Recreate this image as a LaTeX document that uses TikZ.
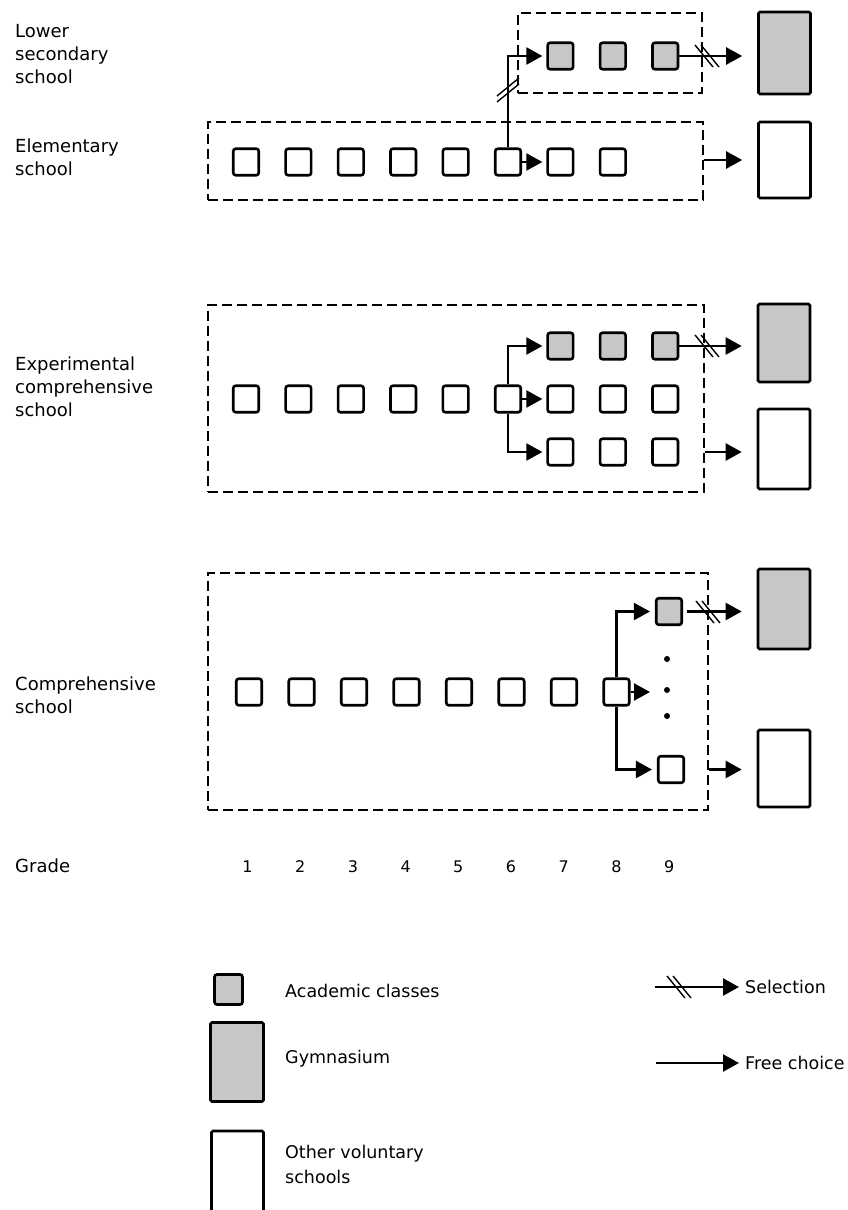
\documentclass[tikz,border=0pt]{standalone}
\usepackage{fontspec}
\setmainfont{DejaVu Sans}
\usetikzlibrary{arrows.meta,calc}
\definecolor{stip}{gray}{0.78}
\newcommand\selH[1]{%
  \draw[hl] ([shift={(-12,-11)}]#1) -- ([shift={(6,11)}]#1);
  \draw[hl] ([shift={(-6,-11)}]#1) -- ([shift={(12,11)}]#1);}
\newcommand\selV[1]{%
  \draw[hl] ([shift={(-11,6)}]#1) -- ([shift={(11,-12)}]#1);
  \draw[hl] ([shift={(-11,12)}]#1) -- ([shift={(11,-6)}]#1);}
\begin{document}
\begin{tikzpicture}[x=1pt,y=-1pt,
  sq/.style={draw, line width=2.6pt, rounded corners=2.5pt, minimum width=25.5pt, minimum height=26.5pt, inner sep=0pt, fill=white},
  gsq/.style={sq, fill=stip},
  big/.style={draw, line width=2.6pt, rounded corners=1.5pt, minimum width=52pt, inner sep=0pt, fill=white},
  gbig/.style={big, fill=stip},
  dbox/.style={draw, dash pattern=on 10pt off 5pt, line width=1.4pt, inner sep=0pt},
  arr/.style={line width=2.3pt, -{Triangle[length=16pt,width=17pt]}},
  hl/.style={line width=1.4pt},
  lab/.style={anchor=base west, inner sep=0pt, font=\fontsize{18}{20}\selectfont},
  leg/.style={anchor=base west, inner sep=0pt, font=\fontsize{17.5}{20}\selectfont},
  num/.style={anchor=base, inner sep=0pt, font=\fontsize{16}{18}\selectfont},
  dot/.style={circle, fill, inner sep=0pt, minimum size=6pt}]
\useasboundingbox (0,0) rectangle (847,1210);

% ---------- labels ----------
\node[lab] (t1a) at (15,37) {Lower};
\node[lab] (t1b) at (15,60) {secondary};
\node[lab] (t1c) at (15,83) {school};
\node[lab] (t2a) at (15,152) {Elementary};
\node[lab] (t2b) at (15,175) {school};
\node[lab] (t3a) at (15,370) {Experimental};
\node[lab] (t3b) at (15,393) {comprehensive};
\node[lab] (t3c) at (15,416) {school};
\node[lab] (t4a) at (15,690) {Comprehensive};
\node[lab] (t4b) at (15,713) {school};
\node[lab] (tg) at (15,872) {Grade};
\foreach \i in {1,...,9} {\node[num] (gr\i) at ({247.5+52.7*(\i-1)},872) {\i};}

% ---------- dashed boxes ----------
\node[dbox, minimum width=184pt, minimum height=80pt] (lsec) at (610,53) {};
\node[dbox, minimum width=495pt, minimum height=78pt] (elem) at (455.5,161) {};
\node[dbox, minimum width=496pt, minimum height=187pt] (expc) at (456,398.5) {};
\node[dbox, minimum width=500pt, minimum height=237pt] (comp) at (458,691.5) {};

% ---------- big boxes ----------
\node[gbig, minimum height=82pt] (gym1) at (784.5,53) {};
\node[big, minimum height=76pt] (oth1) at (784.5,160) {};
\node[gbig, minimum height=78pt] (gym2) at (784,343) {};
\node[big, minimum height=80pt] (oth2) at (784,449) {};
\node[gbig, minimum height=80pt] (gym3) at (784,609) {};
\node[big, minimum height=77pt] (oth3) at (784,768.5) {};

% ---------- row 1 ----------
\foreach \i in {7,8,9} {\node[gsq] (g\i) at ({246+52.4*(\i-1)},56) {};}
\foreach \i in {1,...,8} {\node[sq] (e\i) at ({246+52.4*(\i-1)},162) {};}
\draw[arr, shorten >=4pt] (e6.north) |- (g7.west);
\coordinate (v1) at (508,90);
\selV{v1}
\draw[arr, shorten >=4pt] (e6.east) -- (e7.west);
\draw[arr, shorten >=15pt] (g9.east) -- (g9.east -| gym1.west);
\coordinate (h1) at (707,56);
\selH{h1}
\draw[arr, shorten >=15pt] (elem.east |- oth1.west) -- (oth1.west);

% ---------- row 2 ----------
\foreach \i in {7,8,9} {\node[gsq] (xa\i) at ({246+52.4*(\i-1)},346) {};}
\foreach \i in {1,...,9} {\node[sq] (x\i) at ({246+52.4*(\i-1)},399) {};}
\foreach \i in {7,8,9} {\node[sq] (xb\i) at ({246+52.4*(\i-1)},452) {};}
\draw[arr, shorten >=4pt] (x6.north) |- (xa7.west);
\draw[arr, shorten >=4pt] (x6.south) |- (xb7.west);
\draw[arr, shorten >=4pt] (x6.east) -- (x7.west);
\draw[arr, shorten >=15pt] (xa9.east) -- (xa9.east -| gym2.west);
\coordinate (h2) at (707,346);
\selH{h2}
\draw[arr, shorten >=15pt] (expc.east |- xb9.east) -- (xb9.east -| oth2.west);

% ---------- row 3 ----------
\foreach \i in {1,...,8} {\node[sq] (c\i) at ({249+52.5*(\i-1)},692) {};}
\node[gsq] (cg9) at (669,611.5) {};
\node[sq] (cb9) at (671,769.5) {};
\node[dot] (d1) at (667,659) {};
\node[dot] (d2) at (667,690) {};
\node[dot] (d3) at (667,716) {};
\coordinate (cm) at (650,692);
\draw[arr] (c8.north) |- ([xshift=-5pt]cg9.west);
\draw[arr] (c8.south) |- ([xshift=-5pt]cb9.west);
\draw[arr] (c8.east) -- (cm);
\draw[arr, shorten <=4pt, shorten >=15pt] (cg9.east) -- (cg9.east -| gym3.west);
\coordinate (h3) at (708,612);
\selH{h3}
\draw[arr, shorten >=15pt] (comp.east |- cb9.east) -- (cb9.east -| oth3.west);

% ---------- legend ----------
\node[gsq, minimum width=28pt, minimum height=30pt] (lsq) at (228.5,989.5) {};
\node[gbig, minimum width=53pt, minimum height=79pt] (lgym) at (237,1062) {};
\node[big, minimum width=52pt, minimum height=82pt] (loth) at (237.5,1172) {};
\node[leg] (ta) at (285,997) {Academic classes};
\node[leg] (tgy) at (285,1063) {Gymnasium};
\node[leg] (to1) at (285,1158) {Other voluntary};
\node[leg] (to2) at (285,1183) {schools};
\node[leg] (tsel) at (745,993) {Selection};
\node[leg] (tfc) at (745,1069) {Free choice};
\coordinate (sa) at (655,987);
\coordinate (fa) at (656,1063);
\draw[arr, shorten >=6pt] (sa) -- (sa -| tsel.west);
\coordinate (h4) at (679,987);
\selH{h4}
\draw[arr, shorten >=6pt] (fa) -- (fa -| tfc.west);
\end{tikzpicture}
\end{document}
